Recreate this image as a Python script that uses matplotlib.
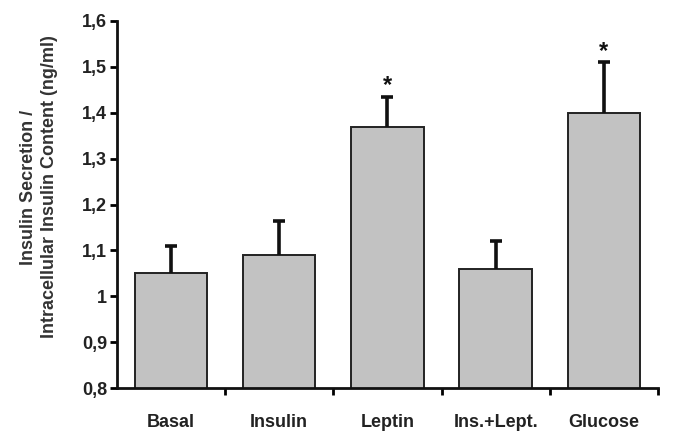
import matplotlib
matplotlib.use("Agg")
import matplotlib.pyplot as plt
from matplotlib.ticker import FixedLocator, FuncFormatter

categories = ["Basal", "Insulin", "Leptin", "Ins.+Lept.", "Glucose"]
means = [1.05, 1.09, 1.37, 1.06, 1.40]
errors = [0.06, 0.075, 0.065, 0.06, 0.11]
significant = [False, False, True, False, True]
yticks = [0.8, 0.9, 1.0, 1.1, 1.2, 1.3, 1.4, 1.5, 1.6]

plt.rcParams['font.family'] = ['Liberation Sans', 'DejaVu Sans']
plt.rcParams['font.weight'] = 'bold'

fig = plt.figure(figsize=(6.75, 4.37), dpi=100)
ax = fig.add_axes([0.173, 0.112, 0.802, 0.840])

x = list(range(len(categories)))
ax.bar(x, means, width=0.67, bottom=0, color="#c2c2c2", edgecolor="#222222",
       linewidth=1.4, zorder=2)
tops = [m + e for m, e in zip(means, errors)]
ax.vlines(x, means, tops, colors="#111111", linewidth=2.6, zorder=3)
ax.hlines(tops, [xi - 0.055 for xi in x], [xi + 0.055 for xi in x],
          colors="#111111", linewidth=2.6, zorder=3)

for xi, t, s in zip(x, tops, significant):
    if s:
        ax.text(xi, t - 0.001, "*", ha="center", va="bottom",
                fontsize=17, fontweight="bold", color="#111111")

ax.set_xlim(-0.5, 4.5)
ax.set_ylim(0.8, 1.6)
ax.set_yticks(yticks)
ax.yaxis.set_major_formatter(FuncFormatter(
    lambda v, p: ("%g" % round(v, 2)).replace(".", ",")))
ax.xaxis.set_major_locator(FixedLocator([0.5, 1.5, 2.5, 3.5, 4.5]))
ax.xaxis.set_minor_locator(FixedLocator(x))
ax.set_xticklabels([], minor=False)
ax.set_xticklabels(categories, minor=True)
ax.tick_params(axis="x", which="minor", length=0, pad=19, labelsize=13)
ax.tick_params(axis="x", which="major", length=5, width=2, direction="out")
ax.tick_params(axis="y", length=5, width=2, direction="out", labelsize=13, pad=2)

for sp in ["top", "right"]:
    ax.spines[sp].set_visible(False)
for sp in ["left", "bottom"]:
    ax.spines[sp].set_linewidth(2)
    ax.spines[sp].set_color("#111111")

fig.text(39 / 675, 1 - 187 / 437,
         "Insulin Secretion /\nIntracellular Insulin Content (ng/ml)",
         rotation=90, ha="center", va="center", multialignment="center",
         fontsize=13, fontweight="bold", color="#333333", linespacing=1.3)
for lbl in ax.get_yticklabels() + ax.get_xticklabels(minor=True):
    lbl.set_color("#222222")

fig.savefig("out.png", dpi=100)
